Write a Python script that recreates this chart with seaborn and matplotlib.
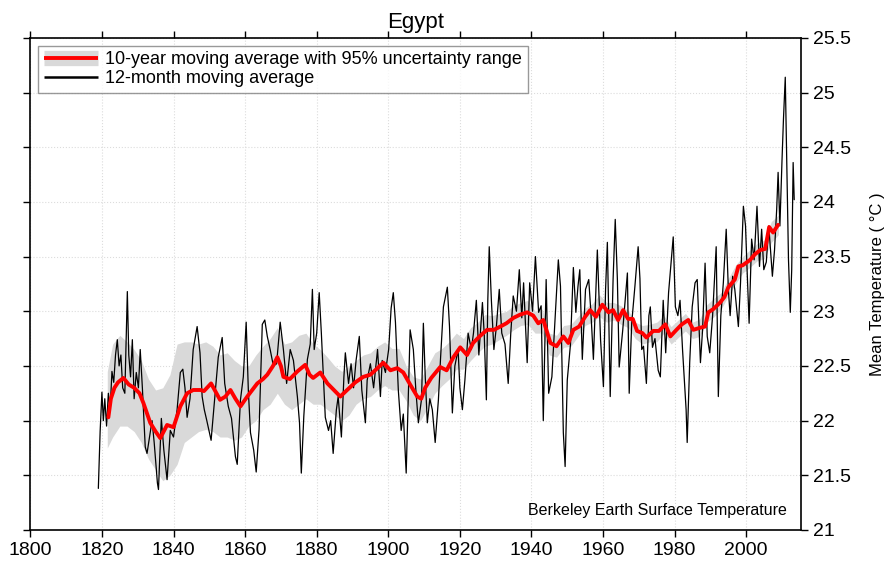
import pandas as pd
import matplotlib.pyplot as plt
from matplotlib.lines import Line2D
import seaborn as sns

# 12-month moving average
month_years = [1819.0, 1819.5, 1820.0, 1820.4, 1820.8, 1821.3, 1821.8, 1822.3, 1822.8, 1823.3,
               1823.8, 1824.3, 1824.8, 1825.3, 1825.8, 1826.4, 1827.1, 1827.5, 1828.0, 1828.5,
               1829.0, 1829.6, 1830.2, 1830.7, 1831.3, 1832.1, 1832.6, 1833.3, 1834.0, 1834.6,
               1835.5, 1835.8, 1836.6, 1837.3, 1838.2, 1839.1, 1840.0, 1841.0, 1841.9, 1842.6,
               1843.2, 1843.8, 1844.6, 1845.5, 1846.6, 1847.4, 1848.0, 1848.6, 1849.3, 1850.5,
               1851.7, 1852.5, 1853.6, 1854.3, 1855.3, 1856.2, 1857.3, 1857.8, 1858.7, 1859.5,
               1860.3, 1860.9, 1861.5, 1862.4, 1863.1, 1863.9, 1864.8, 1865.5, 1866.2, 1867.0,
               1867.9, 1868.8, 1869.8, 1870.7, 1871.6, 1872.6, 1873.5, 1874.6, 1875.2, 1875.7,
               1876.4, 1877.4, 1878.2, 1878.8, 1879.3, 1880.0, 1880.7, 1881.3, 1882.4, 1883.3,
               1883.9, 1884.6, 1885.5, 1886.0, 1886.9, 1887.6, 1888.0, 1888.9, 1889.6, 1890.3,
               1891.0, 1891.9, 1892.6, 1893.6, 1894.1, 1895.0, 1895.9, 1897.0, 1897.8, 1898.3,
               1899.2, 1900.1, 1900.8, 1901.4, 1902.0, 1902.8, 1903.6, 1904.2, 1905.0, 1905.7,
               1906.1, 1907.0, 1907.7, 1908.4, 1909.3, 1909.8, 1910.3, 1910.9, 1911.6, 1912.3,
               1913.1, 1914.0, 1914.6, 1915.4, 1916.5, 1917.1, 1917.9, 1918.6, 1919.5, 1920.0,
               1920.7, 1921.4, 1922.3, 1923.2, 1923.8, 1924.6, 1925.3, 1926.3, 1926.8, 1927.4,
               1927.8, 1928.2, 1928.8, 1929.5, 1930.2, 1931.0, 1931.7, 1932.6, 1933.5, 1934.2,
               1934.9, 1935.8, 1936.6, 1937.3, 1937.8, 1938.8, 1939.5, 1940.3, 1941.1, 1942.0,
               1942.7, 1943.3, 1944.1, 1944.8, 1945.7, 1946.7, 1947.5, 1948.1, 1948.9, 1949.4,
               1950.0, 1950.9, 1951.7, 1952.4, 1953.0, 1953.5, 1954.2, 1955.1, 1956.0, 1956.6,
               1957.3, 1958.4, 1959.3, 1960.1, 1960.7, 1961.2, 1962.0, 1962.8, 1963.4, 1964.0,
               1964.5, 1965.5, 1966.8, 1967.3, 1968.0, 1968.9, 1969.8, 1970.3, 1970.8, 1971.3,
               1972.1, 1972.8, 1973.2, 1973.8, 1974.5, 1975.4, 1976.0, 1976.8, 1977.5, 1978.3,
               1979.6, 1980.2, 1980.9, 1981.5, 1982.2, 1983.2, 1983.5, 1984.2, 1984.9, 1985.7,
               1986.3, 1987.2, 1987.8, 1988.5, 1989.1, 1989.8, 1990.6, 1991.6, 1992.2, 1992.9,
               1993.6, 1994.4, 1995.0, 1995.5, 1996.2, 1996.8, 1997.8, 1998.4, 1999.2, 1999.8,
               2000.2, 2000.8, 2001.5, 2002.2, 2003.0, 2003.7, 2004.3, 2004.9, 2005.6, 2006.3,
               2007.3, 2007.9, 2008.5, 2008.9, 2009.4, 2010.0, 2010.4, 2010.9, 2011.3, 2011.8,
               2012.3, 2012.7, 2013.1, 2013.4]
month_temps = [21.38, 21.9, 22.26, 22.0, 22.2, 21.95, 22.25, 22.1, 22.45, 22.35,
               22.6, 22.74, 22.5, 22.6, 22.3, 22.25, 23.18, 22.6, 22.4, 22.74,
               22.2, 22.44, 22.3, 22.65, 22.3, 21.76, 21.7, 21.85, 22.0, 21.8,
               21.43, 21.37, 22.02, 21.73, 21.46, 21.91, 21.85, 22.1, 22.44, 22.47,
               22.3, 22.03, 22.2, 22.65, 22.86, 22.62, 22.22, 22.1, 22.0, 21.82,
               22.28, 22.58, 22.76, 22.34, 22.13, 22.02, 21.67, 21.6, 22.19, 22.4,
               22.9, 22.28, 21.89, 21.73, 21.53, 21.92, 22.88, 22.92, 22.77, 22.65,
               22.5, 22.52, 22.9, 22.65, 22.34, 22.65, 22.55, 22.22, 21.98, 21.52,
               22.04, 22.56, 22.7, 23.2, 22.65, 22.8, 23.17, 22.8, 22.03, 21.91,
               22.0, 21.7, 22.1, 22.22, 21.85, 22.4, 22.62, 22.34, 22.52, 22.3,
               22.55, 22.77, 22.28, 21.98, 22.37, 22.52, 22.3, 22.65, 22.22, 22.55,
               22.44, 22.65, 23.03, 23.17, 22.9, 22.28, 21.91, 22.06, 21.52, 22.34,
               22.83, 22.65, 22.28, 21.98, 22.2, 22.89, 22.42, 21.98, 22.2, 22.1,
               21.8, 22.19, 22.57, 23.04, 23.22, 22.86, 22.07, 22.5, 22.65, 22.3,
               22.1, 22.37, 22.8, 22.65, 22.8, 23.1, 22.6, 23.08, 22.79, 22.19,
               23.1, 23.59, 23.1, 22.65, 22.86, 23.2, 22.8, 22.7, 22.34, 22.79,
               23.14, 23.0, 23.38, 22.94, 23.26, 22.53, 23.26, 23.0, 23.5, 22.99,
               23.05, 22.0, 23.29, 22.25, 22.4, 22.99, 23.47, 23.23, 21.89, 21.58,
               22.37, 22.7, 23.4, 22.99, 23.23, 23.38, 22.56, 23.2, 23.29, 22.99,
               22.56, 23.56, 22.74, 22.31, 23.2, 23.63, 22.22, 23.29, 23.84, 23.29,
               22.49, 22.83, 23.35, 22.25, 22.89, 23.23, 23.59, 23.3, 22.65, 22.68,
               22.34, 22.96, 23.04, 22.67, 22.75, 22.46, 22.4, 23.1, 22.62, 23.17,
               23.68, 23.04, 22.96, 23.1, 22.65, 22.1, 21.8, 22.53, 23.04, 23.26,
               23.29, 22.53, 22.83, 23.44, 22.77, 22.62, 22.96, 23.59, 22.22, 22.96,
               23.26, 23.75, 23.2, 22.96, 23.32, 23.2, 22.86, 23.26, 23.96, 23.78,
               23.41, 22.89, 23.66, 23.47, 23.96, 23.41, 23.75, 23.38, 23.45, 23.78,
               23.32, 23.56, 23.93, 24.27, 23.78, 24.39, 24.76, 25.14, 24.4, 23.47,
               22.99, 23.38, 24.36, 24.02]

# 10-year moving average
decade_years = [1821.8, 1822.5, 1823.5, 1824.5, 1826.0, 1827.5, 1829.0, 1830.5, 1831.6, 1833.5,
                1835.0, 1836.3, 1838.2, 1840.0, 1841.9, 1843.8, 1845.5, 1847.5, 1848.5, 1850.5,
                1852.0, 1853.0, 1854.5, 1855.9, 1857.3, 1858.7, 1860.6, 1862.0, 1863.4, 1865.0,
                1866.2, 1867.8, 1869.0, 1870.0, 1870.7, 1872.5, 1874.6, 1876.8, 1878.0, 1879.0,
                1881.0, 1883.0, 1884.8, 1886.6, 1888.5, 1890.8, 1893.0, 1895.0, 1897.0, 1898.6,
                1900.6, 1902.5, 1904.2, 1906.1, 1908.1, 1909.2, 1910.3, 1912.0, 1914.5, 1916.3,
                1918.2, 1920.1, 1922.0, 1923.7, 1925.5, 1927.6, 1929.5, 1931.3, 1933.0, 1935.0,
                1936.9, 1938.8, 1940.5, 1941.9, 1943.3, 1945.3, 1947.0, 1948.9, 1950.3, 1951.7,
                1953.3, 1955.0, 1956.4, 1958.0, 1959.8, 1961.5, 1962.8, 1964.2, 1965.6, 1967.0,
                1968.3, 1969.5, 1971.0, 1972.1, 1974.0, 1975.6, 1977.4, 1978.8, 1980.5, 1982.0,
                1983.8, 1985.2, 1987.2, 1988.5, 1989.4, 1990.8, 1992.7, 1993.9, 1995.0, 1996.8,
                1997.8, 1999.0, 2001.1, 2002.4, 2003.9, 2005.3, 2006.4, 2007.5, 2008.9]
decade_temps = [22.03, 22.2, 22.3, 22.35, 22.39, 22.33, 22.3, 22.25, 22.16, 21.98,
                21.9, 21.84, 21.96, 21.94, 22.13, 22.25, 22.28, 22.28, 22.27, 22.34,
                22.25, 22.19, 22.22, 22.28, 22.2, 22.13, 22.22, 22.28, 22.34, 22.38,
                22.42, 22.5, 22.58, 22.5, 22.4, 22.38, 22.45, 22.51, 22.42, 22.39,
                22.44, 22.34, 22.28, 22.22, 22.28, 22.35, 22.4, 22.42, 22.48, 22.53,
                22.46, 22.48, 22.44, 22.33, 22.22, 22.2, 22.3, 22.39, 22.49, 22.46,
                22.58, 22.67, 22.6, 22.71, 22.77, 22.83, 22.83, 22.86, 22.89, 22.94,
                22.97, 22.99, 22.96, 22.89, 22.92, 22.71, 22.68, 22.77, 22.71, 22.83,
                22.86, 22.95, 23.01, 22.95, 23.06, 22.99, 23.01, 22.92, 23.01, 22.93,
                22.93, 22.82, 22.8, 22.76, 22.82, 22.82, 22.88, 22.77, 22.83, 22.88,
                22.92, 22.83, 22.85, 22.86, 22.99, 23.02, 23.08, 23.13, 23.22, 23.29,
                23.41, 23.42, 23.47, 23.52, 23.56, 23.57, 23.77, 23.72, 23.79]

# 95% uncertainty range of the 10-year average
band_years = [1821.5, 1823, 1825, 1827, 1829, 1831, 1833, 1835, 1837, 1839,
              1841, 1843, 1845, 1847, 1849, 1851, 1853, 1855, 1857, 1859,
              1861, 1863, 1865, 1867, 1869, 1871, 1873, 1875, 1877, 1879,
              1881, 1883, 1885, 1887, 1889, 1891, 1893, 1895, 1897, 1899,
              1901, 1903, 1905, 1907, 1909, 1911, 1913, 1915, 1917, 1919,
              1921, 1923, 1925, 1927, 1929, 1931, 1933, 1935, 1937, 1939,
              1941, 1943, 1945, 1947, 1949, 1951, 1953, 1955, 1957, 1959,
              1961, 1963, 1965, 1967, 1969, 1971, 1973, 1975, 1977, 1979,
              1981, 1983, 1985, 1987, 1989, 1991, 1993, 1995, 1997, 1999,
              2001, 2003, 2005, 2007, 2009]
band_low = [21.75, 21.85, 21.95, 21.95, 21.9, 21.8, 21.65, 21.55, 21.45, 21.5,
            21.6, 21.8, 21.85, 21.9, 21.92, 21.9, 21.85, 21.85, 21.82, 21.85,
            21.95, 22.0, 22.1, 22.15, 22.25, 22.15, 22.1, 22.15, 22.2, 22.15,
            22.15, 22.1, 22.05, 22.0, 22.05, 22.15, 22.2, 22.22, 22.28, 22.32,
            22.28, 22.28, 22.18, 22.05, 22.0, 22.12, 22.25, 22.32, 22.38, 22.47,
            22.47, 22.55, 22.62, 22.68, 22.7, 22.74, 22.78, 22.83, 22.87, 22.88,
            22.8, 22.8, 22.6, 22.58, 22.67, 22.68, 22.77, 22.87, 22.9, 22.95,
            22.9, 22.92, 22.88, 22.85, 22.75, 22.7, 22.72, 22.72, 22.8, 22.7,
            22.76, 22.82, 22.75, 22.77, 22.9, 22.95, 23.02, 23.14, 23.25, 23.35,
            23.4, 23.46, 23.48, 23.63, 23.7]
band_high = [22.45, 22.7, 22.78, 22.72, 22.65, 22.55, 22.38, 22.28, 22.3, 22.42,
             22.7, 22.72, 22.72, 22.7, 22.72, 22.68, 22.6, 22.62, 22.55, 22.5,
             22.5, 22.6, 22.68, 22.75, 22.85, 22.7, 22.72, 22.78, 22.8, 22.7,
             22.65, 22.58, 22.5, 22.45, 22.5, 22.55, 22.6, 22.62, 22.68, 22.72,
             22.66, 22.66, 22.5, 22.4, 22.38, 22.5, 22.62, 22.66, 22.72, 22.8,
             22.75, 22.85, 22.9, 22.97, 22.96, 22.98, 23.0, 23.05, 23.08, 23.1,
             23.0, 23.02, 22.8, 22.78, 22.87, 22.88, 22.95, 23.03, 23.07, 23.15,
             23.08, 23.08, 23.05, 23.01, 22.9, 22.87, 22.88, 22.9, 22.96, 22.86,
             22.92, 22.98, 22.9, 22.93, 23.06, 23.12, 23.17, 23.3, 23.42, 23.5,
             23.56, 23.62, 23.65, 23.82, 23.88]

xtick_vals = [1800, 1820, 1840, 1860, 1880, 1900, 1920, 1940, 1960, 1980, 2000]
ytick_vals = [21, 21.5, 22, 22.5, 23, 23.5, 24, 24.5, 25, 25.5]
ytick_labels = ['21', '21.5', '22', '22.5', '23', '23.5', '24', '24.5', '25', '25.5']

monthly = pd.DataFrame({'year': month_years, 'temp': month_temps})
decadal = pd.DataFrame({'year': decade_years, 'temp': decade_temps})
band = pd.DataFrame({'year': band_years, 'low': band_low, 'high': band_high})

sns.set_theme(style='white')
plt.rcParams['font.family'] = ['Liberation Sans', 'DejaVu Sans']
plt.rcParams['text.color'] = 'black'
plt.rcParams['axes.labelcolor'] = 'black'

fig = plt.figure(figsize=(8.92, 5.65), dpi=100)
ax = fig.add_axes([0.034, 0.062, 0.864, 0.871])

ax.fill_between(band['year'], band['low'], band['high'], color='#d9d9d9', lw=0, zorder=1)
sns.lineplot(data=monthly, x='year', y='temp', ax=ax, color='black', lw=0.9,
             estimator=None, sort=False, zorder=2)
sns.lineplot(data=decadal, x='year', y='temp', ax=ax, color='#ff0000', lw=2.8,
             estimator=None, sort=False, zorder=3)

ax.set_xlim(1800, 2015.3)
ax.set_ylim(21, 25.5)
ax.set_xticks(xtick_vals)
ax.set_xticklabels([str(v) for v in xtick_vals])
ax.set_yticks(ytick_vals)
ax.set_yticklabels(ytick_labels)
ax.grid(True, color='#dcdcdc', ls=':', lw=0.8)
ax.tick_params(axis='x', bottom=True, top=True, direction='out', length=5, width=1,
               labelsize=14, colors='black')
ax.tick_params(axis='y', left=True, right=True, labelleft=False, labelright=True,
               direction='out', length=5, width=1, labelsize=14, colors='black')
for s in ax.spines.values():
    s.set_color('black')
    s.set_linewidth(1.2)

ax.set_xlabel('')
ax.yaxis.set_label_position('right')
ax.set_ylabel('Mean Temperature ( °C )', fontsize=12, labelpad=14, color='black')
ax.set_title('Egypt', fontsize=16, pad=7, color='black')

ax.text(0.982, 0.04, 'Berkeley Earth Surface Temperature', transform=ax.transAxes,
        ha='right', va='center', fontsize=11.5, color='black')

handles = [(Line2D([], [], color='#d9d9d9', lw=11, solid_capstyle='butt'),
            Line2D([], [], color='#ff0000', lw=2.8, solid_capstyle='butt')),
           Line2D([], [], color='black', lw=1.8, solid_capstyle='butt')]
labels = ['10-year moving average with 95% uncertainty range', '12-month moving average']
leg = ax.legend(handles, labels, loc='upper left', fontsize=13, frameon=True, fancybox=False,
                edgecolor='#808080', handlelength=3.0, borderaxespad=0.45, borderpad=0.3,
                labelspacing=0.1, handletextpad=0.4)
leg.get_frame().set_linewidth(1.0)

fig.savefig('out.png', dpi=100)
